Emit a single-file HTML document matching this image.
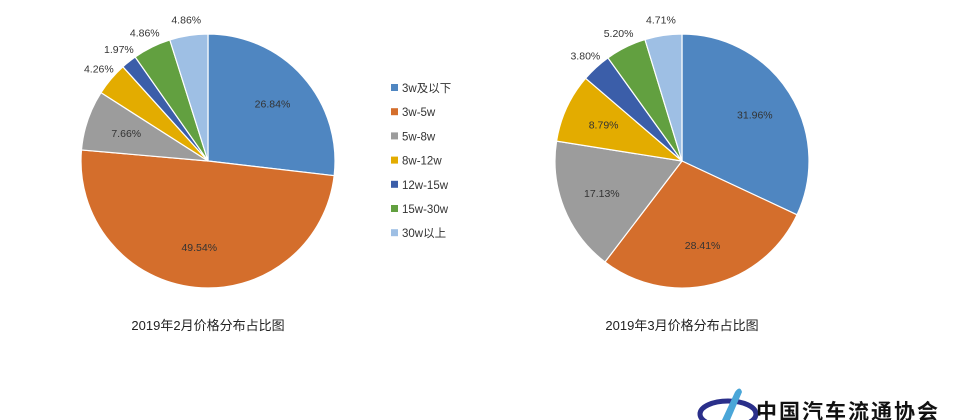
<!DOCTYPE html>
<html><head><meta charset="utf-8"><style>
html,body{margin:0;padding:0;background:#fff;}
svg{display:block;font-family:"Liberation Sans","Noto Sans CJK SC",sans-serif;}
</style></head><body>
<svg id="c" width="956" height="420"></svg>
<script>
const categories=["3w及以下","3w-5w","5w-8w","8w-12w","12w-15w","15w-30w","30w以上"];
const febValues=[26.84,49.54,7.66,4.26,1.97,4.86,4.86];
const marValues=[31.96,28.41,17.13,8.79,3.80,5.20,4.71];
const colors=["#4f86c1","#d46e2c","#9c9c9c","#e3ac00","#3b5ea9","#62a040","#9ebfe4"];
const NS="http://www.w3.org/2000/svg";
const svg=document.getElementById("c");
function mk(t,a,p){const e=document.createElementNS(NS,t);for(const k in a)e.setAttribute(k,a[k]);(p||svg).appendChild(e);return e;}
function pie(vals,cx,cy,r,title,key){
  const g=mk("g",{});
  
  
  const tot=vals.reduce((a,b)=>a+b,0);let acc=0;
  vals.forEach((v,i)=>{
    const a0=acc/tot*2*Math.PI;acc+=v;const a1=acc/tot*2*Math.PI;
    const x0=cx+r*Math.sin(a0),y0=cy-r*Math.cos(a0),x1=cx+r*Math.sin(a1),y1=cy-r*Math.cos(a1);
    const p=mk("path",{d:`M${cx},${cy}L${x0},${y0}A${r},${r} 0 ${a1-a0>Math.PI?1:0} 1 ${x1},${y1}Z`,fill:colors[i],stroke:"#fff","stroke-width":1.2},g);
    
    
    const am=(a0+a1)/2;const inside=v>7;const rr=inside?r*0.68:r+16;
    const t=mk("text",{x:cx+rr*Math.sin(am),y:cy-rr*Math.cos(am)+4,"text-anchor":"middle","font-size":10.5,fill:"#333"},g);
    t.textContent=v.toFixed(2)+"%";
    
    
  });
  const tt=mk("text",{x:cx,y:330,"text-anchor":"middle","font-size":13,fill:"#222"});
  tt.textContent=title;
  
  
}
pie(febValues,208,161,127,"2019年2月价格分布占比图","feb");
pie(marValues,682,161,127,"2019年3月价格分布占比图","mar");
const lg=mk("g",{});


categories.forEach((c,i)=>{
  const y=88+i*24.2;
  const r=mk("rect",{x:391,y:y-4,width:7,height:7,fill:colors[i]},lg);
  
  
  const t=mk("text",{x:402,y:y+4,"font-size":11.5,fill:"#333"},lg);
  t.textContent=c;
  
  
});
const logo=mk("g",{});


mk("ellipse",{cx:728,cy:414,rx:28,ry:13,fill:"none",stroke:"#2a2f8a","stroke-width":5},logo);
mk("path",{d:"M722,420 L735,392 Q740,385 742,392 L730,420Z",fill:"#4aa6d8"},logo);
const lt=mk("text",{x:756,y:419,"font-size":21,"font-weight":"bold",fill:"#111","letter-spacing":"2"},logo);
lt.textContent="中国汽车流通协会";
</script>
</body></html>
